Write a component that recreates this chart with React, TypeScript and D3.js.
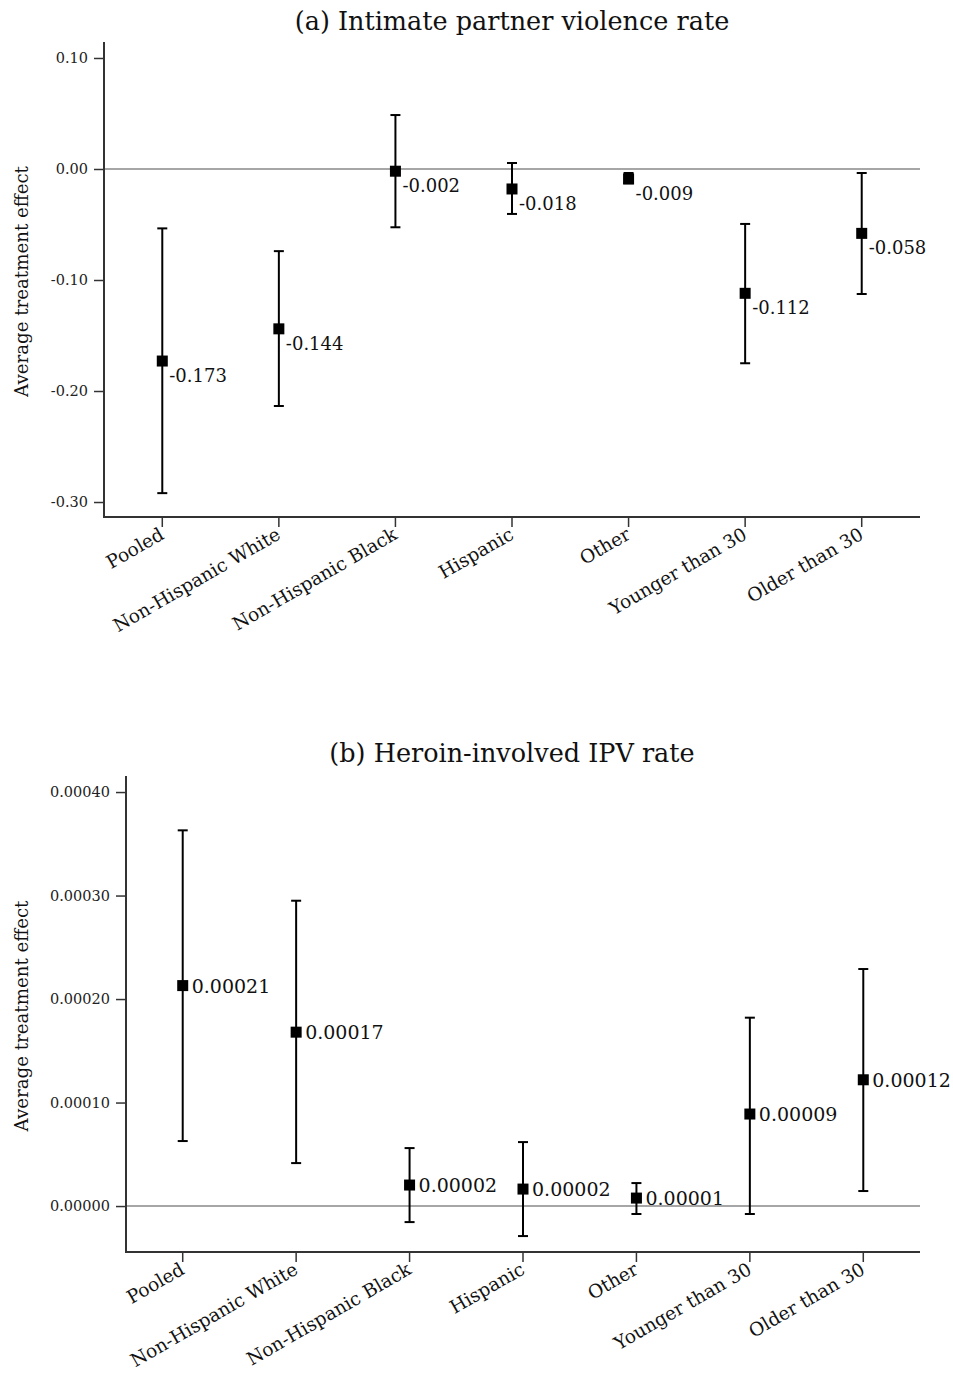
import React, { useEffect, useRef } from "react";
import * as d3 from "d3";

// Groups on the x axis (same for both panels)
const groups = [
  "Pooled",
  "Non-Hispanic White",
  "Non-Hispanic Black",
  "Hispanic",
  "Other",
  "Younger than 30",
  "Older than 30",
];

// Panel (a): intimate partner violence rate
const ipvEstimate = [-0.173, -0.144, -0.002, -0.018, -0.009, -0.112, -0.058];
const ipvLower = [-0.292, -0.2135, -0.0525, -0.0405, -0.0128, -0.175, -0.1126];
const ipvUpper = [-0.0535, -0.074, 0.0486, 0.0054, -0.0036, -0.0495, -0.0036];
const ipvLabels = ["-0.173", "-0.144", "-0.002", "-0.018", "-0.009", "-0.112", "-0.058"];
const ipvTicks = [0.1, 0.0, -0.1, -0.2, -0.3];

// Panel (b): heroin-involved IPV rate
const heroinEstimate = [0.000213, 0.000168, 0.0000203, 0.0000164, 0.0000077, 0.0000889, 0.000122];
const heroinLower = [0.0000628, 0.0000415, -0.0000155, -0.000029, -0.0000077, -0.0000077, 0.0000145];
const heroinUpper = [0.000363, 0.000295, 0.000056, 0.0000618, 0.0000222, 0.000182, 0.000229];
const heroinLabels = ["0.00021", "0.00017", "0.00002", "0.00002", "0.00001", "0.00009", "0.00012"];
const heroinTicks = [0.0004, 0.0003, 0.0002, 0.0001, 0.0];

const FONT = "'DejaVu Serif', Georgia, serif";

const App = () => {
  const svgRef = useRef<SVGSVGElement>(null);

  useEffect(() => {
    const width = 953;
    const height = 1373;
    const svg = d3.select(svgRef.current).attr("width", width).attr("height", height);
    svg.selectAll("*").remove();

    const drawPanel = (opts: any) => {
      const { top, bottom, left, right, domain, ticks, digits, est, lo, hi, labels, title, titleY, labelPos, labelSize } = opts;

      const y = d3.scaleLinear().domain(domain).range([bottom, top]);
      const x = d3.scaleBand().domain(groups).range([left, right]);
      const cx = (g: string) => (x(g) as number) + x.bandwidth() / 2;
      // plain hyphen for negatives, like the original
      const fmt = (v: number) => d3.format(`.${digits}f`)(v).replace("\u2212", "-");

      const g = svg.append("g");

      // title
      g.append("text")
        .attr("x", 512)
        .attr("y", titleY)
        .attr("text-anchor", "middle")
        .style("font-family", FONT)
        .style("font-size", "25.5px")
        .style("fill", "#111")
        .text(title);

      // zero line
      g.append("line")
        .attr("x1", left).attr("x2", right)
        .attr("y1", y(0)).attr("y2", y(0))
        .attr("stroke", "#a6a6a6")
        .attr("stroke-width", 2);

      // y axis
      const yAxis = g.append("g")
        .attr("transform", `translate(${left},0)`)
        .call(d3.axisLeft(y).tickValues(ticks).tickFormat(fmt as any).tickSize(10).tickPadding(6));
      yAxis.select(".domain").remove();
      yAxis.selectAll("line").attr("stroke", "#333").attr("stroke-width", 1.5);
      yAxis.selectAll("text")
        .style("font-family", FONT)
        .style("font-size", "14.5px")
        .style("fill", "#222");

      // x axis
      const xAxis = g.append("g")
        .attr("transform", `translate(0,${bottom})`)
        .call(d3.axisBottom(x).tickSize(10).tickSizeOuter(0));
      xAxis.select(".domain").remove();
      xAxis.selectAll("line").attr("stroke", "#333").attr("stroke-width", 1.5);
      xAxis.selectAll("text")
        .style("font-family", FONT)
        .style("font-size", "18.5px")
        .style("fill", "#111")
        .style("text-anchor", "end")
        .attr("dy", null)
        .attr("y", null)
        .attr("transform", "translate(3,21) rotate(-30)");

      // axis lines (L shape)
      g.append("path")
        .attr("d", `M${left},${top}V${bottom}H${right}`)
        .attr("fill", "none")
        .attr("stroke", "#333")
        .attr("stroke-width", 2);

      // y axis label
      g.append("text")
        .attr("transform", `translate(28,${(top + bottom) / 2 + 2}) rotate(-90)`)
        .attr("text-anchor", "middle")
        .style("font-family", FONT)
        .style("font-size", "18.2px")
        .style("fill", "#111")
        .text("Average treatment effect");

      // error bars, markers, value labels
      groups.forEach((grp, i) => {
        const px = cx(grp);
        const bar = g.append("g").attr("stroke", "#000").attr("stroke-width", 2);
        bar.append("line").attr("x1", px).attr("x2", px).attr("y1", y(lo[i])).attr("y2", y(hi[i]));
        [lo[i], hi[i]].forEach((v) => {
          bar.append("line").attr("x1", px - 5).attr("x2", px + 5).attr("y1", y(v)).attr("y2", y(v));
        });

        g.append("rect")
          .attr("x", px - 5.5)
          .attr("y", y(est[i]) - 5.5)
          .attr("width", 11)
          .attr("height", 11)
          .attr("fill", "#000");

        g.append("text")
          .attr("x", px + (labelPos === "below" ? 7 : 9))
          .attr("y", y(est[i]) + (labelPos === "below" ? 21 : 7))
          .style("font-family", FONT)
          .style("font-size", labelSize)
          .style("fill", "#111")
          .text(labels[i]);
      });
    };

    drawPanel({
      top: 42, bottom: 517, left: 104, right: 920,
      domain: [-0.3135, 0.1144],
      ticks: ipvTicks,
      digits: 2,
      est: ipvEstimate, lo: ipvLower, hi: ipvUpper, labels: ipvLabels,
      title: "(a) Intimate partner violence rate", titleY: 30,
      labelPos: "below", labelSize: "18px",
    });

    drawPanel({
      top: 776, bottom: 1252, left: 126, right: 920,
      domain: [-0.0000444, 0.0004155],
      ticks: heroinTicks,
      digits: 5,
      est: heroinEstimate, lo: heroinLower, hi: heroinUpper, labels: heroinLabels,
      title: "(b) Heroin-involved IPV rate", titleY: 762,
      labelPos: "right", labelSize: "19px",
    });
  }, []);

  return (
    <svg
      ref={svgRef}
      style={{ position: "absolute", left: 0, top: 0, background: "#fff" }}
    ></svg>
  );
};

export default App;
